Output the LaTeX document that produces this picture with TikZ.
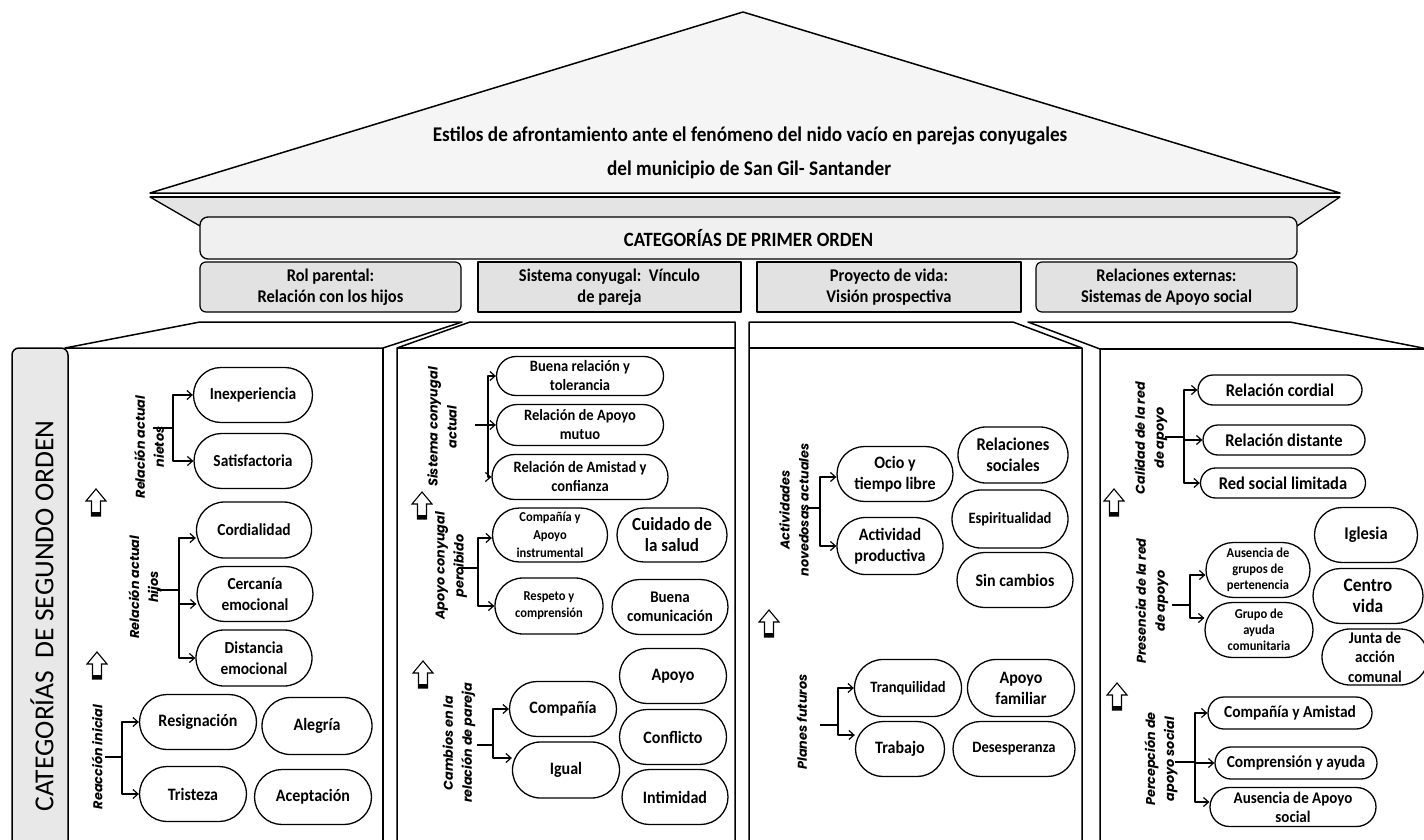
\documentclass[tikz,border=0pt]{standalone}
\usepackage{fontspec}
\setmainfont{Carlito}[FakeStretch=0.92]
\newfontfamily\plainfont{Carlito}
\newfontfamily\lblfont{Poppins}
\usetikzlibrary{shapes.misc,arrows.meta}
\definecolor{roofc}{HTML}{F5F5F5}
\definecolor{eavec}{HTML}{E4E4E4}
\definecolor{bandc}{HTML}{F0F0F0}
\definecolor{hdrc}{HTML}{E2E2E2}
\definecolor{sidec}{HTML}{E8E8E8}
\begin{document}
\begin{tikzpicture}[x=1pt,y=-1pt,line join=round,
  pill/.style={draw=black, line width=1.3pt, fill=white, rounded rectangle, inner sep=0pt, align=center},
  pw/.style 2 args={minimum width=#1, minimum height=#2},
  fs/.style 2 args={font=\bfseries\fontsize{#1}{#2}\selectfont},
  lbl/.style={rotate=90, align=center, inner sep=0pt, font=\lblfont\bfseries\itshape\fontsize{12.8}{19}\selectfont},
  con/.style={line width=1.2pt},
  arr/.style={con, -{Straight Barb[length=5pt,width=9pt]}},
  hdrbox/.style={draw, line width=1.2pt, fill=hdrc, align=center, font=\bfseries\fontsize{17.9}{21}\selectfont, minimum height=50, inner sep=0pt},
  colline/.style={line width=1.5pt},
  uparrow/.pic={\draw[line width=1.1pt, fill=white, line join=miter] (0,-14) -- (10,-2) -- (4.5,-2) -- (4.5,13) -- (-4.5,13) -- (-4.5,-2) -- (-10,-2) -- cycle; \fill (-4.5,9) rectangle (4.5,13);}
]
\useasboundingbox (0,0) rectangle (1424,840);
\fill[white] (0,0) rectangle (1424,840);

% ---------- roof ----------
\draw[line width=1.3pt, fill=eavec] (150,197) -- (1340,197) -- (1297,226) -- (200,226) -- cycle;
\draw[line width=1.5pt, fill=roofc] (743,12) -- (1340,193) -- (150,193) -- cycle;
\draw[line width=1.5pt] (150,197) -- (1340,197);
\node[fs={20.9}{24}] (t1) at (750,136) {Estilos de afrontamiento ante el fenómeno del nido vacío en parejas conyugales};
\node[fs={20.9}{24}] (t2) at (749,170) {del municipio de San Gil- Santander};

% ---------- first order ----------
\node[draw, line width=1.3pt, rounded corners=8, fill=bandc, minimum width=1097, minimum height=42, inner sep=0pt, fs={20.3}{24}] (p1) at (748.5,238) {CATEGORÍAS DE PRIMER ORDEN};
\node[hdrbox, minimum width=261, rounded corners=6] (h1) at (330.5,287) {Rol parental:\\Relación con los hijos};
\node[hdrbox, minimum width=263] (h2) at (609.5,287) {Sistema conyugal:\ \ Vínculo\\de pareja};
\node[hdrbox, minimum width=264] (h3) at (889,287) {Proyecto de vida:\\Visión prospectiva};
\node[hdrbox, minimum width=261, rounded corners=6] (h4) at (1166.5,287) {Relaciones externas:\\Sistemas de Apoyo social};

% ---------- columns ----------
\draw[colline, fill=white] (65,348) -- (200,322) -- (462,322) -- (383,348) -- cycle;
\draw[colline] (383,348) -- (383,845);
\draw[colline, fill=sidec, rounded corners=7] (12,850) -- (12,348) -- (68,348) -- (68,850);
\node[rotate=90, font=\plainfont\fontsize{27.5}{30}\selectfont] (seg) at (42,616) {CATEGORÍAS\ \ DE SEGUNDO ORDEN};

\draw[colline] (397,845) -- (397,348) -- (470,322) -- (735,322) -- (735,845);
\draw[colline] (397,348) -- (735,348);

\draw[colline] (749,845) -- (749,322) -- (1013,322) -- (1082,348) -- (1082,845);
\draw[colline] (749,348) -- (1082,348);

\draw[colline] (1100,845) -- (1100,349) -- (1028,322) -- (1290,322) -- (1428,349);
\draw[colline] (1100,349) -- (1428,349);

% ---------- up arrows ----------
\pic (ua1) at (96,503) {uparrow};
\pic (ua2) at (97,666) {uparrow};
\pic (ua3) at (422,506) {uparrow};
\pic (ua4) at (423,675) {uparrow};
\pic (ua5) at (769,624) {uparrow};
\pic (ua6) at (1114,503) {uparrow};
\pic (ua7) at (1117,697) {uparrow};

% ---------- column 1 ----------
\node[lbl] (l1a) at (149,447) {Relación actual\\nietos};
\node[lbl] (l1b) at (145,587) {Relación actual\\hijos};
\node[lbl] (l1c) at (97,757) {Reacción inicial};

\node[pill, pw={119}{55}, fs={16.8}{21}] (inexp) at (253,395) {Inexperiencia};
\node[pill, pw={118}{55}, fs={16.8}{21}] (satis) at (253,461) {Satisfactoria};
\node[pill, pw={115}{56}, fs={16.8}{21}] (cord) at (254,530) {Cordialidad};
\node[pill, pw={116}{55}, fs={16.8}{21}] (cerc) at (255,594) {Cercanía\\emocional};
\node[pill, pw={116}{56}, fs={16.8}{21}] (dist) at (254,658) {Distancia\\emocional};
\node[pill, pw={117}{55}, fs={17.4}{21}] (resig) at (198,722) {Resignación};
\node[pill, pw={110}{57}, fs={17.4}{21}] (aleg) at (317,726) {Alegría};
\node[pill, pw={107}{55}, fs={17.4}{21}] (trist) at (193,794) {Tristeza};
\node[pill, pw={117}{55}, fs={17.4}{21}] (acept) at (313,797) {Aceptación};

\coordinate (s1a) at (153,428); \coordinate (k1a) at (173,428);
\draw[con] (s1a) -- (k1a);
\draw[arr] (k1a) |- (inexp.west);
\draw[arr] (k1a) |- (satis.west);
\coordinate (s1b) at (157,590); \coordinate (k1b) at (179,590);
\draw[con] (s1b) -- (k1b);
\draw[arr] (k1b) |- ([yshift=-8]cord.west);
\draw[arr] (k1b) |- ([yshift=-10]cerc.west);
\draw[arr] (k1b) |- (dist.west);
\coordinate (s1c) at (105,757); \coordinate (k1c) at (122,757);
\draw[con] (s1c) -- (k1c);
\draw[arr] (k1c) |- (resig.west);
\draw[arr] (k1c) |- (trist.west);

% ---------- column 2 ----------
\node[lbl] (l2a) at (442,427) {Sistema conyugal\\actual};
\node[lbl] (l2b) at (451,566) {Apoyo conyugal\\percibido};
\node[lbl] (l2c) at (459,743) {Cambios en la\\relación de pareja};

\node[pill, pw={167}{39}, fs={15.8}{19}] (buena) at (580,376) {Buena relación y\\tolerancia};
\node[pill, pw={167}{41}, fs={15.8}{19}] (mutuo) at (580,425) {Relación de Apoyo\\mutuo};
\node[pill, pw={176}{45}, fs={15.8}{19}] (amist) at (580,477) {Relación de Amistad y\\confianza};
\node[pill, pw={115}{54}, fs={13.6}{18}] (compap) at (550,535) {Compañía y\\Apoyo\\instrumental};
\node[pill, pw={110}{54}, fs={18.5}{21}] (cuid) at (672,535) {Cuidado de\\la salud};
\node[pill, pw={108}{56}, fs={13.6}{17}] (resp) at (549,606) {Respeto y\\comprensión};
\node[pill, pw={116}{55}, fs={16.3}{19}] (bcom) at (670,607) {Buena\\comunicación};
\node[pill, pw={107}{55}, fs={17.4}{21}] (compa) at (563,709) {Compañía};
\node[pill, pw={107}{56}, fs={17.4}{21}] (igual) at (566,770) {Igual};
\node[pill, pw={107}{55}, fs={17.4}{21}] (apoyo) at (673,676) {Apoyo};
\node[pill, pw={107}{55}, fs={17.4}{21}] (confl) at (673,737) {Conflicto};
\node[pill, pw={106}{55}, fs={17.4}{21}] (intim) at (675,797) {Intimidad};

\coordinate (s2a) at (475,425); \coordinate (k2a) at (488,425);
\draw[con] (s2a) -- (k2a);
\draw[arr] (k2a) |- (buena.west);
\draw[arr] (k2a) |- (mutuo.west);
\draw[arr] (k2a) |- (amist.west);
\coordinate (s2b) at (458,568); \coordinate (k2b) at (478,568);
\draw[con] (s2b) -- (k2b);
\draw[arr] (k2b) |- ([yshift=-3]compap.west);
\draw[arr] (k2b) |- (resp.west);
\coordinate (s2c) at (477,745); \coordinate (k2c) at (493,745);
\draw[con] (s2c) -- (k2c);
\draw[arr] (k2c) |- (compa.west);
\draw[arr] (k2c) |- ([yshift=12]igual.west);

% ---------- column 3 ----------
\node[lbl] (l3a) at (794,510) {Actividades\\novedosas actuales};
\node[lbl] (l3b) at (802,722) {Planes futuros};

\node[pill, pw={116}{55}, fs={17.4}{21}] (ocio) at (895,474) {Ocio y\\tiempo libre};
\node[pill, pw={106}{57}, fs={17.4}{21}] (activ) at (890,546) {Actividad\\productiva};
\node[pill, pw={110}{56}, fs={17.9}{21}] (relsoc) at (1013,455) {Relaciones\\sociales};
\node[pill, pw={116}{58}, fs={15.8}{20}] (espir) at (1010,519) {Espiritualidad};
\node[pill, pw={116}{55}, fs={17.4}{20}] (sincam) at (1015,580) {Sin cambios};
\node[pill, pw={107}{57}, fs={15.8}{20}] (tranq) at (908,688) {Tranquilidad};
\node[pill, pw={89}{55}, fs={17.4}{20}] (trab) at (900,749) {Trabajo};
\node[pill, pw={107}{57}, fs={17.4}{21}] (apfam) at (1021,688) {Apoyo\\familiar};
\node[pill, pw={122}{55}, fs={15.8}{20}] (deses) at (1014,749) {Desesperanza};

\coordinate (s3a) at (807,508); \coordinate (k3a) at (820,508);
\draw[con] (s3a) -- (k3a);
\draw[arr] (k3a) |- ([yshift=-3]ocio.west);
\draw[arr] (k3a) |- (activ.west);
\coordinate (s3b) at (820,725); \coordinate (k3b) at (838,725);
\draw[con] (s3b) -- (k3b);
\draw[arr] (k3b) |- (tranq.west);
\draw[arr] (k3b) |- ([yshift=14]trab.west);

% ---------- column 4 ----------
\node[lbl] (l4a) at (1151,438) {Calidad de la red\\de apoyo};
\node[lbl] (l4b) at (1152,601) {Presencia de la red\\de apoyo};
\node[lbl] (l4c) at (1161,759) {Percepción de\\apoyo social};

\node[pill, pw={164}{30}, fs={17.9}{20}] (cordial) at (1280,390) {Relación cordial};
\node[pill, pw={162}{30}, fs={17.9}{20}] (distan) at (1284,440) {Relación distante};
\node[pill, pw={165}{30}, fs={17.9}{20}] (limit) at (1283,483) {Red social limitada};
\node[pill, pw={103}{55}, fs={17.9}{20}] (igles) at (1366,535) {Iglesia};
\node[pill, pw={104}{55}, fs={13.6}{16}] (ausgr) at (1258,570) {Ausencia de\\grupos de\\pertenencia};
\node[pill, pw={108}{55}, fs={13.6}{16}] (grupo) at (1259,630) {Grupo de\\ayuda\\comunitaria};
\node[pill, pw={110}{55}, fs={19}{21}] (centro) at (1368,596) {Centro\\vida};
\node[pill, pw={106}{56}, fs={16.3}{19.5}] (junta) at (1375,657) {Junta de\\acción\\comunal};
\node[pill, pw={164}{32}, fs={16.8}{19}] (compam) at (1290,713) {Compañía y Amistad};
\node[pill, pw={162}{32}, fs={16.8}{19}] (compay) at (1296,763) {Comprensión y ayuda};
\node[pill, pw={166}{39}, fs={16.3}{19}] (ausap) at (1293,807) {Ausencia de Apoyo\\social};

\coordinate (s4a) at (1165,437); \coordinate (k4a) at (1184,437);
\draw[con] (s4a) -- (k4a);
\draw[arr] (k4a) |- (cordial.west);
\draw[arr] (k4a) |- (distan.west);
\draw[arr] (k4a) |- (limit.west);
\coordinate (s4b) at (1172,605); \coordinate (k4b) at (1190,605);
\draw[con] (s4b) -- (k4b);
\draw[arr] (k4b) |- ([yshift=-5]ausgr.west);
\draw[arr] (k4b) |- ([yshift=12]grupo.west);
\coordinate (s4c) at (1175,762); \coordinate (k4c) at (1195,762);
\draw[con] (s4c) -- (k4c);
\draw[arr] (k4c) |- (compam.west);
\draw[arr] (k4c) |- (compay.west);
\draw[arr] (k4c) |- ([yshift=5]ausap.west);
\end{tikzpicture}
\end{document}
